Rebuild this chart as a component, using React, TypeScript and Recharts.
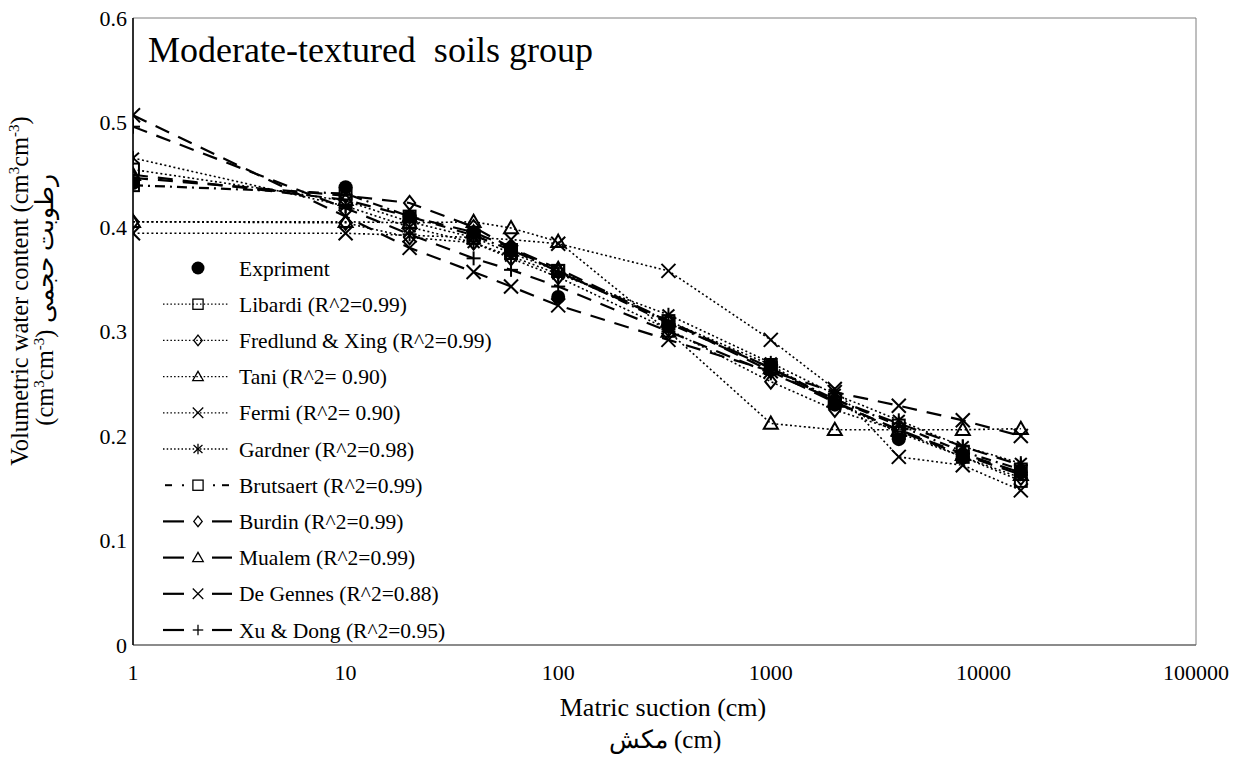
import React from 'react';
import { LineChart, Line, XAxis, YAxis, ReferenceArea } from 'recharts';

// matric suction (cm) at which every curve is evaluated
const suction = [1, 10, 20, 40, 60, 100, 330, 1000, 2000, 4000, 8000, 15000];

// volumetric water content (cm3/cm3)
const experiment = [0.442, 0.438, 0.41, 0.395, 0.378, 0.333, 0.305, 0.268, 0.23, 0.197, 0.18, 0.165];
const libardi = [0.455, 0.425, 0.405, 0.39, 0.375, 0.358, 0.31, 0.268, 0.232, 0.203, 0.18, 0.157];
const fredlund = [0.405, 0.404, 0.39, 0.385, 0.37, 0.352, 0.302, 0.252, 0.225, 0.205, 0.18, 0.16];
const tani = [0.405, 0.405, 0.404, 0.405, 0.399, 0.386, 0.3, 0.212, 0.206, 0.206, 0.206, 0.207];
const fermi = [0.394, 0.394, 0.392, 0.39, 0.388, 0.384, 0.358, 0.292, 0.245, 0.18, 0.172, 0.148];
const gardner = [0.466, 0.42, 0.4, 0.385, 0.372, 0.355, 0.316, 0.27, 0.24, 0.215, 0.19, 0.174];
const brutsaert = [0.44, 0.432, 0.41, 0.392, 0.378, 0.358, 0.308, 0.265, 0.235, 0.21, 0.185, 0.168];
const burdin = [0.447, 0.43, 0.423, 0.4, 0.38, 0.357, 0.31, 0.262, 0.232, 0.206, 0.183, 0.165];
const mualem = [0.45, 0.426, 0.41, 0.395, 0.38, 0.36, 0.31, 0.265, 0.233, 0.205, 0.182, 0.163];
const deGennes = [0.507, 0.41, 0.38, 0.357, 0.343, 0.325, 0.292, 0.262, 0.242, 0.229, 0.215, 0.2];
const xuDong = [0.496, 0.418, 0.393, 0.37, 0.359, 0.343, 0.3, 0.26, 0.235, 0.212, 0.19, 0.172];

const xTicks = [1, 10, 100, 1000, 10000, 100000];
const yTicks = [0, 0.1, 0.2, 0.3, 0.4, 0.5, 0.6];

const FONT = "Liberation Serif, Times New Roman, Times, DejaVu Serif, serif";

type MarkerKind = 'circle' | 'square' | 'diamond' | 'triangle' | 'cross' | 'star' | 'plus';
type LineKind = 'none' | 'dotted' | 'dashed' | 'dashdot';

const series: { key: string; name: string; values: number[]; marker: MarkerKind; line: LineKind }[] = [
  { key: 'exp', name: 'Expriment', values: experiment, marker: 'circle', line: 'none' },
  { key: 'libardi', name: 'Libardi (R^2=0.99)', values: libardi, marker: 'square', line: 'dotted' },
  { key: 'fredlund', name: 'Fredlund & Xing (R^2=0.99)', values: fredlund, marker: 'diamond', line: 'dotted' },
  { key: 'tani', name: 'Tani (R^2= 0.90)', values: tani, marker: 'triangle', line: 'dotted' },
  { key: 'fermi', name: 'Fermi (R^2= 0.90)', values: fermi, marker: 'cross', line: 'dotted' },
  { key: 'gardner', name: 'Gardner (R^2=0.98)', values: gardner, marker: 'star', line: 'dotted' },
  { key: 'brutsaert', name: 'Brutsaert (R^2=0.99)', values: brutsaert, marker: 'square', line: 'dashdot' },
  { key: 'burdin', name: 'Burdin (R^2=0.99)', values: burdin, marker: 'diamond', line: 'dashed' },
  { key: 'mualem', name: 'Mualem (R^2=0.99)', values: mualem, marker: 'triangle', line: 'dashed' },
  { key: 'degennes', name: 'De Gennes (R^2=0.88)', values: deGennes, marker: 'cross', line: 'dashed' },
  { key: 'xudong', name: 'Xu & Dong (R^2=0.95)', values: xuDong, marker: 'plus', line: 'dashed' },
];

// one row per suction value, one column per series
const rows = suction.map((x, i) => {
  const r: Record<string, number> = { x };
  series.forEach((s) => (r[s.key] = s.values[i]));
  return r;
});

const DASH: Record<LineKind, string | undefined> = {
  none: undefined,
  dotted: '2 2.6',
  dashed: '15 10',
  dashdot: '10 5 2 5',
};

function Marker({ cx, cy, kind, size, sw }: { cx: number; cy: number; kind: MarkerKind; size: number; sw: number }) {
  if (cx == null || cy == null) return null;
  const h = size / 2;
  const common = { fill: 'none', stroke: '#000', strokeWidth: sw };
  switch (kind) {
    case 'circle':
      return <circle cx={cx} cy={cy} r={h} fill="#000" />;
    case 'square':
      return <rect x={cx - h * 0.85} y={cy - h * 0.85} width={h * 1.7} height={h * 1.7} {...common} />;
    case 'diamond':
      return <polygon points={`${cx},${cy - h} ${cx + h * 0.8},${cy} ${cx},${cy + h} ${cx - h * 0.8},${cy}`} {...common} />;
    case 'triangle':
      return <polygon points={`${cx},${cy - h} ${cx + h},${cy + h * 0.75} ${cx - h},${cy + h * 0.75}`} {...common} />;
    case 'cross':
      return (
        <g {...common}>
          <line x1={cx - h} y1={cy - h} x2={cx + h} y2={cy + h} />
          <line x1={cx - h} y1={cy + h} x2={cx + h} y2={cy - h} />
        </g>
      );
    case 'star':
      return (
        <g {...common}>
          <line x1={cx - h * 0.85} y1={cy - h * 0.75} x2={cx + h * 0.85} y2={cy + h * 0.75} />
          <line x1={cx - h * 0.85} y1={cy + h * 0.75} x2={cx + h * 0.85} y2={cy - h * 0.75} />
          <line x1={cx} y1={cy - h} x2={cx} y2={cy + h} />
        </g>
      );
    case 'plus':
      return (
        <g {...common}>
          <line x1={cx - h} y1={cy} x2={cx + h} y2={cy} />
          <line x1={cx} y1={cy - h} x2={cx} y2={cy + h} />
        </g>
      );
  }
  return null;
}

function LegendRow({ s, cy }: { s: (typeof series)[number]; cy: number }) {
  const mx = 198;
  let stroke: React.ReactNode = null;
  if (s.line === 'dotted') {
    stroke = <line x1={163} y1={cy} x2={228} y2={cy} stroke="#000" strokeWidth={1.3} strokeDasharray="1.5 2.2" />;
  } else if (s.line === 'dashed') {
    stroke = (
      <g stroke="#000" strokeWidth={2.2}>
        <line x1={163} y1={cy} x2={184} y2={cy} />
        <line x1={212} y1={cy} x2={232} y2={cy} />
      </g>
    );
  } else if (s.line === 'dashdot') {
    stroke = (
      <g stroke="#000" strokeWidth={2}>
        <line x1={165} y1={cy} x2={172} y2={cy} />
        <line x1={182} y1={cy} x2={184} y2={cy} />
        <line x1={213} y1={cy} x2={215} y2={cy} />
        <line x1={222} y1={cy} x2={229} y2={cy} />
      </g>
    );
  }
  const size = s.marker === 'circle' ? 13 : s.marker === 'square' ? 12 : 10.5;
  return (
    <g>
      {stroke}
      <Marker cx={mx} cy={cy} kind={s.marker} size={size} sw={1.3} />
      <text x={239} y={cy + 7.5} fontSize={21.5} fontFamily={FONT} fill="#000">
        {s.name}
      </text>
    </g>
  );
}

export default function App() {
  return (
    <div style={{ position: 'relative', width: 1240, height: 758, background: '#fff', fontFamily: FONT }}>
      <style>{'body{margin:0}'}</style>
      <LineChart width={1240} height={758} data={rows} margin={{ top: 18, right: 44, bottom: 83, left: 73 }}>
        <XAxis
          dataKey="x"
          type="number"
          scale="log"
          domain={[1, 100000]}
          ticks={xTicks}
          interval={0}
          allowDataOverflow
          height={30}
          tickLine={false}
          tickMargin={13}
          axisLine={{ stroke: '#595959', strokeWidth: 1.2 }}
          tick={{ fontSize: 22, fill: '#000', fontFamily: FONT }}
        />
        <YAxis
          type="number"
          domain={[0, 0.6]}
          ticks={yTicks}
          interval={0}
          width={60}
          tickLine={false}
          tickMargin={0}
          tickFormatter={(v: number) => String(v)}
          axisLine={{ stroke: '#000', strokeWidth: 1.5 }}
          tick={{ fontSize: 22, fill: '#000', fontFamily: FONT }}
        />
        <ReferenceArea x1={1} x2={100000} y1={0} y2={0.6} fill="none" stroke="#7f7f7f" strokeWidth={1} />
        {[...series.slice(1), series[0]].map((s) => (
          <Line
            key={s.key}
            dataKey={s.key}
            name={s.name}
            type="linear"
            isAnimationActive={false}
            stroke={s.line === 'none' ? 'none' : '#000'}
            strokeWidth={s.line === 'none' ? 0 : s.line === 'dotted' ? 1.6 : 2.2}
            strokeDasharray={DASH[s.line]}
            activeDot={false}
            dot={(p: any) => (
              <Marker key={`${s.key}-${p.index}`} cx={p.cx} cy={p.cy} kind={s.marker} size={14} sw={2} />
            )}
          />
        ))}
      </LineChart>

      <svg width={1240} height={758} style={{ position: 'absolute', left: 0, top: 0, pointerEvents: 'none' }}>
        <text x={148} y={62} fontSize={36} fontFamily={FONT} fill="#000" style={{ whiteSpace: 'pre' }}>
          {'Moderate-textured  soils group'}
        </text>

        {series.map((s, i) => (
          <LegendRow key={s.key} s={s} cy={268 + i * 36.2} />
        ))}

        <text x={663} y={716} fontSize={26} fontFamily={FONT} textAnchor="middle" fill="#000">
          Matric suction (cm)
        </text>
        <text x={665} y={748} fontSize={25} fontFamily={FONT} textAnchor="middle" fill="#000" direction="ltr">
          مکش (cm)
        </text>

        <g transform="translate(28,291) rotate(-90)">
          <text x={0} y={0} fontSize={24.5} fontFamily={FONT} textAnchor="middle" fill="#000">
            Volumetric water content (cm<tspan fontSize={15} dy={-9}>3</tspan>
            <tspan dy={9}>cm</tspan>
            <tspan fontSize={15} dy={-9}>-3</tspan>
            <tspan dy={9}>)</tspan>
          </text>
        </g>
        <g transform="translate(53,300) rotate(-90)">
          <text x={0} y={0} fontSize={24.5} fontFamily={FONT} textAnchor="middle" fill="#000" direction="ltr">
            (cm<tspan fontSize={15} dy={-9}>3</tspan>
            <tspan dy={9}>cm</tspan>
            <tspan fontSize={15} dy={-9}>-3</tspan>
            <tspan dy={9}>{') رطوبت حجمی'}</tspan>
          </text>
        </g>
      </svg>
    </div>
  );
}
